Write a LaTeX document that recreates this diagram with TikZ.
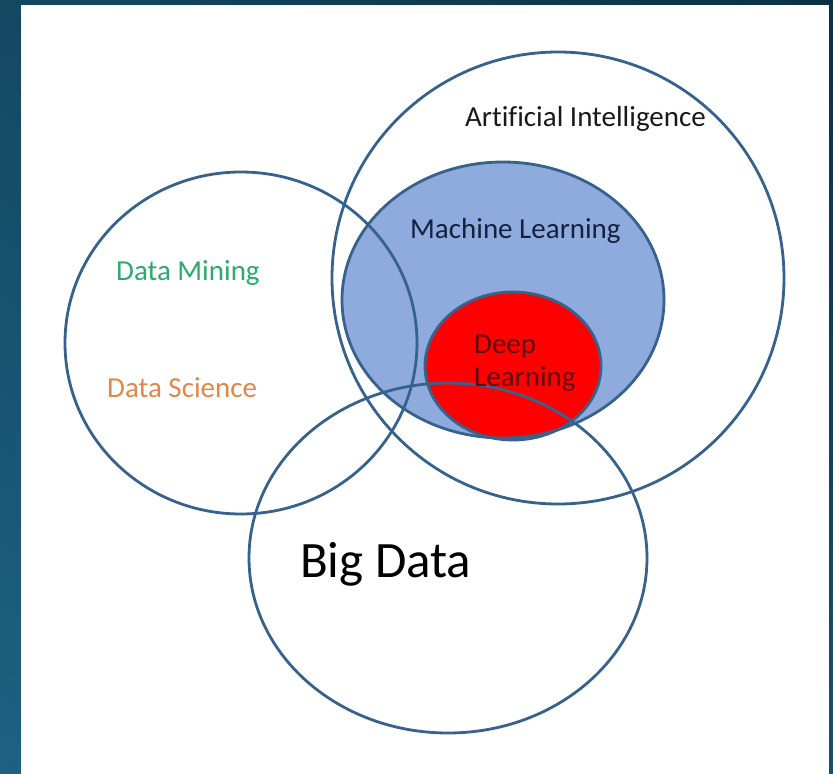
\documentclass[tikz,border=0pt]{standalone}
\usepackage{fontspec}
\setmainfont[Ligatures=NoCommon]{Carlito}
\usepackage{xcolor}
\usepackage{tikz}
\usetikzlibrary{positioning,shadings}

\definecolor{frameUL}{HTML}{134861}
\definecolor{frameUR}{HTML}{0B3145}
\definecolor{frameLL}{HTML}{1E6183}
\definecolor{frameLR}{HTML}{17506B}
\definecolor{setline}{HTML}{36628C}
\definecolor{mlfill}{HTML}{8FAADC}
\definecolor{dlfill}{HTML}{FF0000}
\definecolor{mltext}{HTML}{13223F}
\definecolor{dmtext}{HTML}{2DAA6C}
\definecolor{dstext}{HTML}{E0884A}
\definecolor{dltext}{HTML}{5E0B0B}

\begin{document}
\begin{tikzpicture}[x=1pt,y=-1pt,
		venn/.style={line width=2.8pt,draw=setline},
		lbl/.style={inner sep=0pt,anchor=base west,font=\fontsize{29}{35}\selectfont}]
		\useasboundingbox (0,0) rectangle (833,774);
		\shade[upper left=frameUL,upper right=frameUR,lower left=frameLL,lower right=frameLR] (0,0) rectangle (833,774);
		\fill[white] (21,5) rectangle (829,774);
		% filled sets
		\fill[mlfill] (503,300) ellipse [x radius=161,y radius=138];
		\fill[dlfill] (513,366) ellipse [x radius=88,y radius=74];
		% outlines
		\draw[venn] (558,278) circle [radius=226];
		\draw[venn] (503,300) ellipse [x radius=161,y radius=138];
		\draw[venn] (513,366) ellipse [x radius=88,y radius=74];
		\draw[venn] (241,343) ellipse [x radius=176,y radius=171];
		\draw[venn] (448,558) ellipse [x radius=199,y radius=175];
		% labels
		\node[lbl,text=black!90] (ai) at (465,126) {Artificial Intelligence};
		\node[lbl,text=mltext] (ml) at (410,238) {Machine Learning};
		\node[lbl,text=dmtext] (dm) at (116,280) {Data Mining};
		\node[lbl,text=dstext] (ds) at (107,397) {Data Science};
		\node[lbl,text=dltext] (deep) at (474,353) {Deep};
		\node[lbl,text=dltext] (learn) at (474,386) {Learning};
		\node[lbl,font=\fontsize{51}{60}\selectfont] (bd) at (300,577) {Big Data};
	\end{tikzpicture}
\end{document}
